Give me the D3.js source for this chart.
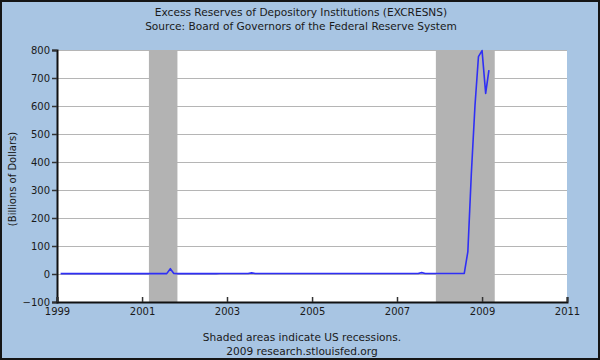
<!DOCTYPE html>
<html>
<head>
<meta charset="utf-8">
<script src="https://cdn.jsdelivr.net/npm/d3@7"></script>
<style>
  html, body { margin: 0; padding: 0; background: #a8c5e3; }
  svg { display: block; font-family: "DejaVu Sans", Verdana, sans-serif; }
</style>
</head>
<body>
<svg id="chart" width="600" height="360"></svg>
<script>
// ---------- data (billions of dollars, monthly, starting Feb 1999) ----------
const firstMonth = "1999-02-01";
const values1999 = [1.3, 1.2, 1.2, 1.3, 1.2, 1.3, 1.2, 1.2, 1.3, 1.4, 1.5];
const values2000 = [1.6, 1.4, 1.3, 1.3, 1.2, 1.3, 1.3, 1.2, 1.3, 1.3, 1.3, 1.4];
const values2001 = [1.4, 1.3, 1.4, 1.3, 1.3, 1.4, 1.3, 1.4, 19.0, 1.7, 1.4, 1.5];
const values2002 = [1.5, 1.4, 1.4, 1.5, 1.4, 1.5, 1.5, 1.4, 1.5, 1.5, 1.6, 1.7];
const values2003 = [1.7, 1.6, 1.6, 1.7, 1.7, 1.8, 1.9, 4.0, 1.8, 1.7, 1.7, 1.8];
const values2004 = [1.8, 1.7, 1.7, 1.8, 1.7, 1.8, 1.8, 1.7, 1.8, 1.8, 1.9, 1.9];
const values2005 = [1.8, 1.7, 1.7, 1.8, 1.7, 1.8, 1.8, 1.7, 1.8, 1.8, 1.8, 1.9];
const values2006 = [1.8, 1.7, 1.7, 1.8, 1.7, 1.8, 1.8, 1.7, 1.8, 1.8, 1.8, 1.9];
const values2007 = [1.8, 1.7, 1.7, 1.8, 1.7, 1.8, 1.9, 5.0, 1.9, 1.8, 1.8, 2.0];
const values2008 = [1.7, 1.8, 1.9, 1.8, 1.8, 2.0, 1.9, 2.0, 80, 360, 600, 776];
const values2009 = [798, 645, 728];

const recessionStarts = ["2001-03-01", "2007-12-01"];
const recessionEnds   = ["2001-11-01", "2009-04-20"];

const yTicks = [-100, 0, 100, 200, 300, 400, 500, 600, 700, 800];
const xTickYears = [1999, 2001, 2003, 2005, 2007, 2009, 2011];

const titleLines = ["Excess Reserves of Depository Institutions (EXCRESNS)",
                    "Source: Board of Governors of the Federal Reserve System"];
const footerLines = ["Shaded areas indicate US recessions.",
                     "2009 research.stlouisfed.org"];
const yLabel = "(Billions of Dollars)";

// ---------- build series ----------
const allValues = [].concat(values1999, values2000, values2001, values2002, values2003,
  values2004, values2005, values2006, values2007, values2008, values2009);
const start = new Date(firstMonth + "T00:00:00");
const series = allValues.map((v, i) => ({ date: d3.timeMonth.offset(start, i), value: v }));

// ---------- layout ----------
const W = 600, H = 360;
const plot = { left: 57, right: 567, top: 50, bottom: 302 };

const svg = d3.select("#chart");
svg.append("rect").attr("x", 0).attr("y", 0).attr("width", W).attr("height", H)
  .attr("fill", "#a8c5e3");

const x = d3.scaleTime()
  .domain([new Date(1999, 0, 1), new Date(2011, 0, 1)])
  .range([plot.left, plot.right]);
const y = d3.scaleLinear().domain([-100, 800]).range([plot.bottom, plot.top]);

// plot background
svg.append("rect")
  .attr("x", plot.left).attr("y", plot.top)
  .attr("width", plot.right - plot.left).attr("height", plot.bottom - plot.top)
  .attr("fill", "#ffffff");

// grid
svg.append("g").selectAll("line").data(yTicks.filter(d => d > -100)).join("line")
  .attr("x1", plot.left).attr("x2", plot.right)
  .attr("y1", d => Math.round(y(d)) + 0.5).attr("y2", d => Math.round(y(d)) + 0.5)
  .attr("stroke", "#b5b5b5").attr("stroke-width", 1);

// recessions
svg.append("g").selectAll("rect").data(recessionStarts.map((s, i) => [s, recessionEnds[i]]))
  .join("rect")
  .attr("x", d => x(new Date(d[0] + "T00:00:00")))
  .attr("width", d => x(new Date(d[1] + "T00:00:00")) - x(new Date(d[0] + "T00:00:00")))
  .attr("y", plot.top).attr("height", plot.bottom - plot.top)
  .attr("fill", "#b3b3b3");

// line
const line = d3.line().x(d => x(d.date)).y(d => y(d.value));
svg.append("path").datum(series)
  .attr("d", line).attr("fill", "none")
  .attr("stroke", "#2f2ff5").attr("stroke-width", 1.6)
  .attr("stroke-linejoin", "round");

// y axis
const yAxis = d3.axisLeft(y).tickValues(yTicks).tickSize(5).tickPadding(2)
  .tickFormat(d3.format("d"));
const gy = svg.append("g").attr("transform", `translate(${plot.left},0)`).call(yAxis);
gy.select(".domain").attr("stroke", "#111").attr("stroke-width", 2);
gy.selectAll(".tick line").attr("stroke", "#333").attr("stroke-width", 1.5);
gy.selectAll(".tick text").attr("font-size", 10).attr("fill", "#1a1a1a")
  .attr("font-family", "DejaVu Sans, Verdana, sans-serif");

// x axis (ticks pointing inward)
const xAxis = d3.axisBottom(x)
  .tickValues(xTickYears.map(yr => new Date(yr, 0, 1)))
  .tickSize(-5).tickPadding(6)
  .tickFormat(d3.timeFormat("%Y"));
const gx = svg.append("g").attr("transform", `translate(0,${plot.bottom})`).call(xAxis);
gx.select(".domain").attr("stroke", "#111").attr("stroke-width", 2);
gx.selectAll(".tick line").attr("stroke", "#333").attr("stroke-width", 1.5);
gx.selectAll(".tick text").attr("font-size", 10).attr("fill", "#1a1a1a")
  .attr("font-family", "DejaVu Sans, Verdana, sans-serif");

// titles
svg.append("g").selectAll("text").data(titleLines).join("text")
  .attr("x", 301).attr("y", (d, i) => 16 + i * 14)
  .attr("text-anchor", "middle").attr("font-size", 10.6).attr("fill", "#1a1a1a")
  .text(d => d);

// footer
svg.append("g").selectAll("text").data(footerLines).join("text")
  .attr("x", 302).attr("y", (d, i) => 341 + i * 14)
  .attr("text-anchor", "middle").attr("font-size", 10.6).attr("fill", "#1a1a1a")
  .text(d => d);

// y label
svg.append("text")
  .attr("transform", `translate(16,${(plot.top + plot.bottom) / 2 + 3}) rotate(-90)`)
  .attr("text-anchor", "middle").attr("font-size", 10).attr("fill", "#1a1a1a")
  .text(yLabel);

// outer border
svg.append("rect").attr("x", 1).attr("y", 1).attr("width", W - 2).attr("height", H - 2)
  .attr("fill", "none").attr("stroke", "#151515").attr("stroke-width", 2);
</script>
</body>
</html>
